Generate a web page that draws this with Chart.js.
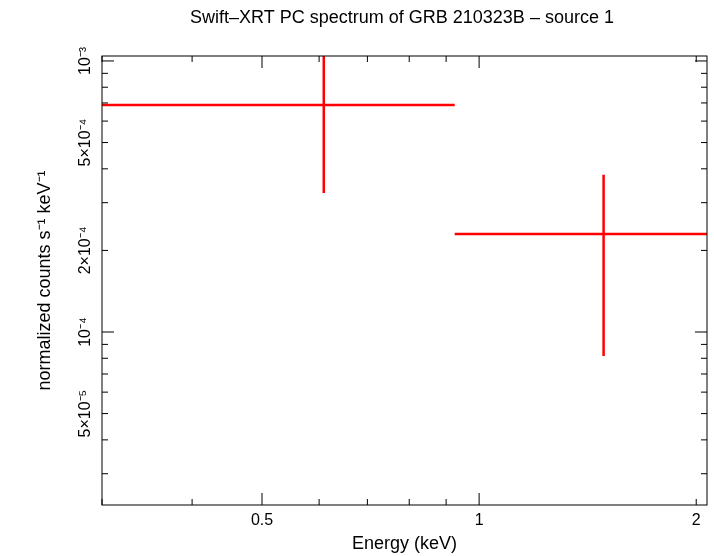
<!DOCTYPE html>
<html>
<head>
<meta charset="utf-8">
<script src="https://cdn.jsdelivr.net/npm/chart.js@4"></script>
<style>html,body{margin:0;background:#fff}#wrap{width:714px;height:556px}</style>
</head>
<body>
<div id="wrap"><canvas id="c"></canvas></div>
<script>
// bins: energy centre, low/high edge, flux and its error range
const eCentre = [0.609, 1.488];
const eLow = [0.30, 0.925];
const eHigh = [0.925, 2.07];
const flux = [6.88e-4, 2.30e-4];
const fluxLow = [3.26e-4, 8.15e-5];
const fluxHigh = [1.2e-3, 3.8e-4];

const xTicks = [0.5, 1, 2];
const xLabels = ['0.5', '1', '2'];
const yTicks = [1e-3, 5e-4, 2e-4, 1e-4, 5e-5];
const yLabels = ['10⁻³', '5×10⁻⁴', '2×10⁻⁴', '10⁻⁴', '5×10⁻⁵'];

// error crosses as one broken line
const pts = [];
for (let i = 0; i < flux.length; i++) {
    pts.push({x: eLow[i], y: flux[i]}, {x: eHigh[i], y: flux[i]}, {x: eCentre[i], y: null});
    pts.push({x: eCentre[i], y: fluxLow[i]}, {x: eCentre[i], y: fluxHigh[i]}, {x: eCentre[i], y: null});
}

const frame = {
    id: 'frame',
    afterDraw(chart) {
        const ctx = chart.ctx, a = chart.chartArea;
        const sx = chart.scales.x, sy = chart.scales.y;
        ctx.save();
        ctx.strokeStyle = '#000';
        ctx.lineWidth = 1;
        ctx.strokeRect(a.left, a.top, a.right - a.left, a.bottom - a.top);
        ctx.beginPath();
        for (let d = 0.1; d < 10; d *= 10) {
            for (let m = 1; m < 10; m++) {
                const v = d * m;
                if (v < sx.min || v > sx.max) continue;
                const p = sx.getPixelForValue(v), len = (m === 1 || m === 5) ? 12 : 6;
                ctx.moveTo(p, a.bottom); ctx.lineTo(p, a.bottom - len);
                ctx.moveTo(p, a.top); ctx.lineTo(p, a.top + len);
            }
        }
        for (let d = 1e-5; d < 1e-2; d *= 10) {
            for (let m = 1; m < 10; m++) {
                const v = d * m;
                if (v < sy.min || v > sy.max) continue;
                const p = sy.getPixelForValue(v), len = m === 1 ? 12 : 6;
                ctx.moveTo(a.left, p); ctx.lineTo(a.left + len, p);
                ctx.moveTo(a.right, p); ctx.lineTo(a.right - len, p);
            }
        }
        ctx.stroke();
        ctx.fillStyle = '#000';
        ctx.font = '16px "Liberation Sans", Arial, sans-serif';
        ctx.textAlign = 'center';
        ctx.textBaseline = 'top';
        xTicks.forEach((v, i) => ctx.fillText(xLabels[i], sx.getPixelForValue(v), a.bottom + 8));
        ctx.font = '18px "Liberation Sans", Arial, sans-serif';
        ctx.fillText('Energy (keV)', (a.left + a.right) / 2, 535);
        ctx.fillText('Swift–XRT PC spectrum of GRB 210323B – source 1', 402, 9);
        ctx.font = '16px "Liberation Sans", Arial, sans-serif';
        ctx.textBaseline = 'bottom';
        yTicks.forEach((v, i) => {
            ctx.save();
            ctx.translate(a.left - 8, sy.getPixelForValue(v));
            ctx.rotate(-Math.PI / 2);
            ctx.fillText(yLabels[i], 0, 0);
            ctx.restore();
        });
        ctx.save();
        ctx.translate(54, (a.top + a.bottom) / 2);
        ctx.rotate(-Math.PI / 2);
        ctx.font = '18px "Liberation Sans", Arial, sans-serif';
        ctx.fillText('normalized counts s⁻¹ keV⁻¹', 0, 0);
        ctx.restore();
        ctx.restore();
    }
};

new Chart(document.getElementById('c'), {
    type: 'line',
    data: {
        datasets: [{
            data: pts,
            borderColor: '#ff0000',
            borderWidth: 2.5,
            pointRadius: 0,
            spanGaps: false
        }]
    },
    options: {
        responsive: true,
        maintainAspectRatio: false,
        animation: false,
        layout: { padding: { left: 94, top: 56, right: 7, bottom: 43 } },
        plugins: { legend: { display: false }, tooltip: { enabled: false } },
        scales: {
            x: { type: 'logarithmic', min: 0.3, max: 2.07, grid: { display: false }, border: { display: false }, ticks: { display: false } },
            y: { type: 'logarithmic', min: 2.3e-5, max: 1.043e-3, grid: { display: false }, border: { display: false }, ticks: { display: false } }
        }
    },
    plugins: [frame]
});
</script>
</body>
</html>
